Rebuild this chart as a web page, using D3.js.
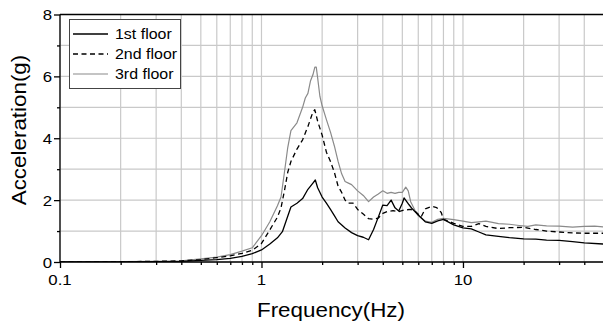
<!DOCTYPE html>
<html>
<head>
<meta charset="utf-8">
<script src="https://cdn.jsdelivr.net/npm/d3@7"></script>
<style>
  html, body { margin: 0; padding: 0; background: #fff; }
  svg { display: block; }
  text { font-family: "Liberation Sans", Arial, sans-serif; fill: #000; }
</style>
</head>
<body>
<svg id="chart" width="603" height="328"></svg>
<script>
// Acceleration response per floor (g) versus frequency (Hz)
const freq1 = [0.1, 0.2, 0.3, 0.4, 0.5, 0.6, 0.7, 0.8, 0.9, 1.0, 1.1, 1.2, 1.27, 1.33, 1.4, 1.5, 1.6, 1.7, 1.8, 1.85, 1.9, 2.0, 2.1, 2.2, 2.3, 2.4, 2.6, 2.8, 3.0, 3.2, 3.4, 3.6, 3.8, 4.0, 4.2, 4.4, 4.6, 4.8, 5.0, 5.1, 5.4, 5.6, 6.0, 6.5, 7.0, 7.5, 8.0, 9, 10, 11, 12, 13, 15, 17, 20, 23, 26, 30, 35, 40, 50];
const accel1 = [0.0, 0.005, 0.01, 0.02, 0.05, 0.08, 0.12, 0.18, 0.27, 0.39, 0.58, 0.78, 0.98, 1.36, 1.78, 1.9, 2.05, 2.35, 2.55, 2.65, 2.4, 2.1, 1.9, 1.7, 1.5, 1.3, 1.1, 0.95, 0.85, 0.8, 0.72, 1.05, 1.45, 1.84, 1.82, 2.0, 1.75, 1.65, 1.9, 2.07, 1.85, 1.72, 1.52, 1.3, 1.25, 1.33, 1.38, 1.2, 1.1, 1.07, 0.97, 0.88, 0.83, 0.79, 0.75, 0.74, 0.71, 0.70, 0.66, 0.62, 0.58];

const freq2 = [0.1, 0.2, 0.3, 0.4, 0.5, 0.6, 0.7, 0.8, 0.9, 1.0, 1.1, 1.2, 1.25, 1.3, 1.35, 1.4, 1.5, 1.6, 1.7, 1.8, 1.84, 1.9, 2.0, 2.1, 2.2, 2.3, 2.4, 2.5, 2.6, 2.7, 2.85, 3.0, 3.2, 3.4, 3.6, 3.8, 4.0, 4.2, 4.5, 4.8, 5.1, 5.5, 5.8, 6.2, 6.5, 7.0, 7.4, 7.8, 8.0, 9, 10, 11, 12, 13, 15, 17, 20, 23, 26, 30, 35, 40, 50];
const accel2 = [0.0, 0.01, 0.02, 0.035, 0.08, 0.14, 0.2, 0.28, 0.38, 0.6, 1.04, 1.45, 1.75, 2.3, 2.9, 3.25, 3.65, 3.95, 4.38, 4.85, 4.92, 4.55, 4.1, 3.55, 3.25, 2.9, 2.45, 2.25, 2.0, 1.9, 1.9, 1.7, 1.55, 1.4, 1.38, 1.42, 1.57, 1.63, 1.66, 1.63, 1.68, 1.70, 1.63, 1.46, 1.72, 1.80, 1.76, 1.6, 1.38, 1.25, 1.15, 1.15, 1.24, 1.15, 1.08, 1.11, 1.12, 1.05, 1.0, 0.97, 0.94, 0.93, 0.93];

const freq3 = [0.1, 0.2, 0.3, 0.4, 0.5, 0.6, 0.7, 0.8, 0.9, 1.0, 1.1, 1.2, 1.25, 1.3, 1.35, 1.4, 1.5, 1.6, 1.65, 1.7, 1.75, 1.8, 1.84, 1.87, 1.9, 1.95, 2.0, 2.1, 2.2, 2.3, 2.4, 2.5, 2.6, 2.7, 2.8, 3.0, 3.2, 3.4, 3.6, 3.8, 4.0, 4.2, 4.4, 4.6, 4.8, 5.0, 5.2, 5.35, 5.5, 5.8, 6.0, 6.5, 7.0, 7.5, 8.0, 9, 10, 11, 12, 13, 14, 15, 17, 19, 21, 23, 26, 30, 35, 40, 45, 50];
const accel3 = [0.0, 0.01, 0.02, 0.04, 0.1, 0.16, 0.24, 0.35, 0.46, 0.85, 1.3, 1.82, 2.1, 2.9, 3.7, 4.25, 4.5, 5.0, 5.3, 5.45, 5.85, 6.05, 6.3, 6.3, 5.95, 5.35, 5.05, 4.6, 4.2, 3.75, 3.25, 2.85, 2.6, 2.55, 2.5, 2.3, 2.15, 1.95, 2.1, 2.2, 2.3, 2.22, 2.25, 2.22, 2.25, 2.25, 2.42, 2.3, 1.95, 1.65, 1.5, 1.32, 1.28, 1.38, 1.41, 1.37, 1.32, 1.27, 1.30, 1.32, 1.28, 1.24, 1.22, 1.18, 1.15, 1.2, 1.17, 1.16, 1.13, 1.15, 1.16, 1.13];

const seriesNames = ["1st floor", "2nd floor", "3rd floor"];
const xTickLabels = [0.1, 1, 10];
const yTickLabels = [0, 2, 4, 6, 8];

const plotLeft = 60, plotRight = 603.8, plotTop = 14.5, plotBottom = 262;
const svg = d3.select("#chart");

const x = d3.scaleLog().domain([0.1, 50]).range([plotLeft, plotRight]);
const y = d3.scaleLinear().domain([0, 8]).range([plotBottom, plotTop]);

const series = [
  { name: seriesNames[0], f: freq1, v: accel1, color: "#000", width: 1.3, dash: null },
  { name: seriesNames[1], f: freq2, v: accel2, color: "#000", width: 1.3, dash: "5,3.5" },
  { name: seriesNames[2], f: freq3, v: accel3, color: "#8a8a8a", width: 1.2, dash: null }
];

// grid
const gridColor = "#c9c9c9";
const xGrid = x.ticks();
const yGrid = d3.range(0, 9, 1);
svg.append("g").selectAll("line").data(xGrid).join("line")
  .attr("x1", d => x(d)).attr("x2", d => x(d))
  .attr("y1", plotTop).attr("y2", plotBottom)
  .attr("stroke", gridColor).attr("stroke-width", 1.2);
svg.append("g").selectAll("line").data(yGrid).join("line")
  .attr("x1", plotLeft).attr("x2", plotRight)
  .attr("y1", d => y(d)).attr("y2", d => y(d))
  .attr("stroke", gridColor).attr("stroke-width", 1.2);

// data lines
svg.append("clipPath").attr("id", "plotClip").append("rect")
  .attr("x", plotLeft).attr("y", plotTop).attr("width", plotRight - plotLeft).attr("height", plotBottom - plotTop);
const line = d3.line().x(d => x(d[0])).y(d => y(d[1]));
const plot = svg.append("g").attr("clip-path", "url(#plotClip)");
series.slice().reverse().forEach(s => {
  plot.append("path")
    .datum(s.f.map((f, i) => [f, s.v[i]]))
    .attr("d", line)
    .attr("fill", "none")
    .attr("stroke", s.color)
    .attr("stroke-width", s.width)
    .attr("stroke-dasharray", s.dash)
    .attr("stroke-linejoin", "round");
});

// frame
svg.append("line").attr("x1", plotLeft).attr("x2", plotRight).attr("y1", plotTop).attr("y2", plotTop)
  .attr("stroke", "#000").attr("stroke-width", 1.3);
svg.append("line").attr("x1", plotRight).attr("x2", plotRight).attr("y1", plotTop).attr("y2", plotBottom)
  .attr("stroke", "#000").attr("stroke-width", 1.3);

// x axis
const xAxis = svg.append("g").attr("transform", `translate(0,${plotBottom})`)
  .call(d3.axisBottom(x).tickValues(xGrid).tickSize(3).tickFormat(""));
xAxis.selectAll(".tick line").filter(d => xTickLabels.includes(d)).attr("y2", 6);
xAxis.selectAll("path, line").attr("stroke", "#000").attr("stroke-width", 1.3);
xAxis.select(".domain").attr("d", `M${plotLeft},0H${plotRight}`);
svg.append("g").selectAll("text").data(xTickLabels).join("text")
  .attr("transform", d => `translate(${x(d)},${plotBottom + 23}) scale(1.12,1)`)
  .attr("text-anchor", "middle")
  .style("font-size", "15px")
  .text(d => d);

// y axis
const yAxis = svg.append("g").attr("transform", `translate(${plotLeft},0)`)
  .call(d3.axisLeft(y).tickValues(d3.range(0, 9, 1)).tickSize(3).tickFormat(""));
yAxis.selectAll(".tick line").filter(d => yTickLabels.includes(d)).attr("x2", -6);
yAxis.selectAll("path, line").attr("stroke", "#000").attr("stroke-width", 1.3);
yAxis.select(".domain").attr("d", `M0,${plotBottom}V${plotTop}`);
svg.append("g").selectAll("text").data(yTickLabels).join("text")
  .attr("transform", d => `translate(${plotLeft - 8},${y(d) + 5.5}) scale(1.12,1)`)
  .attr("text-anchor", "end")
  .style("font-size", "15px")
  .text(d => d);

// axis titles
svg.append("text")
  .attr("transform", `translate(331,317) scale(1.12,1)`)
  .attr("text-anchor", "middle")
  .style("font-size", "20px")
  .text("Frequency(Hz)");
svg.append("text")
  .attr("transform", `translate(26,130) rotate(-90) scale(1.12,1)`)
  .attr("text-anchor", "middle")
  .style("font-size", "20px")
  .text("Acceleration(g)");

// legend
const legend = svg.append("g");
legend.append("rect")
  .attr("x", 69.5).attr("y", 19.5).attr("width", 111).attr("height", 69)
  .attr("fill", "#fff").attr("stroke", "#444").attr("stroke-width", 1);
series.forEach((s, i) => {
  const ly = 34 + i * 20;
  legend.append("line")
    .attr("x1", 73).attr("x2", 108).attr("y1", ly).attr("y2", ly)
    .attr("stroke", s.color).attr("stroke-width", s.width)
    .attr("stroke-dasharray", s.dash);
  legend.append("text")
    .attr("transform", `translate(115,${ly + 5}) scale(1.14,1)`)
    .style("font-size", "14px")
    .text(s.name);
});
</script>
</body>
</html>
